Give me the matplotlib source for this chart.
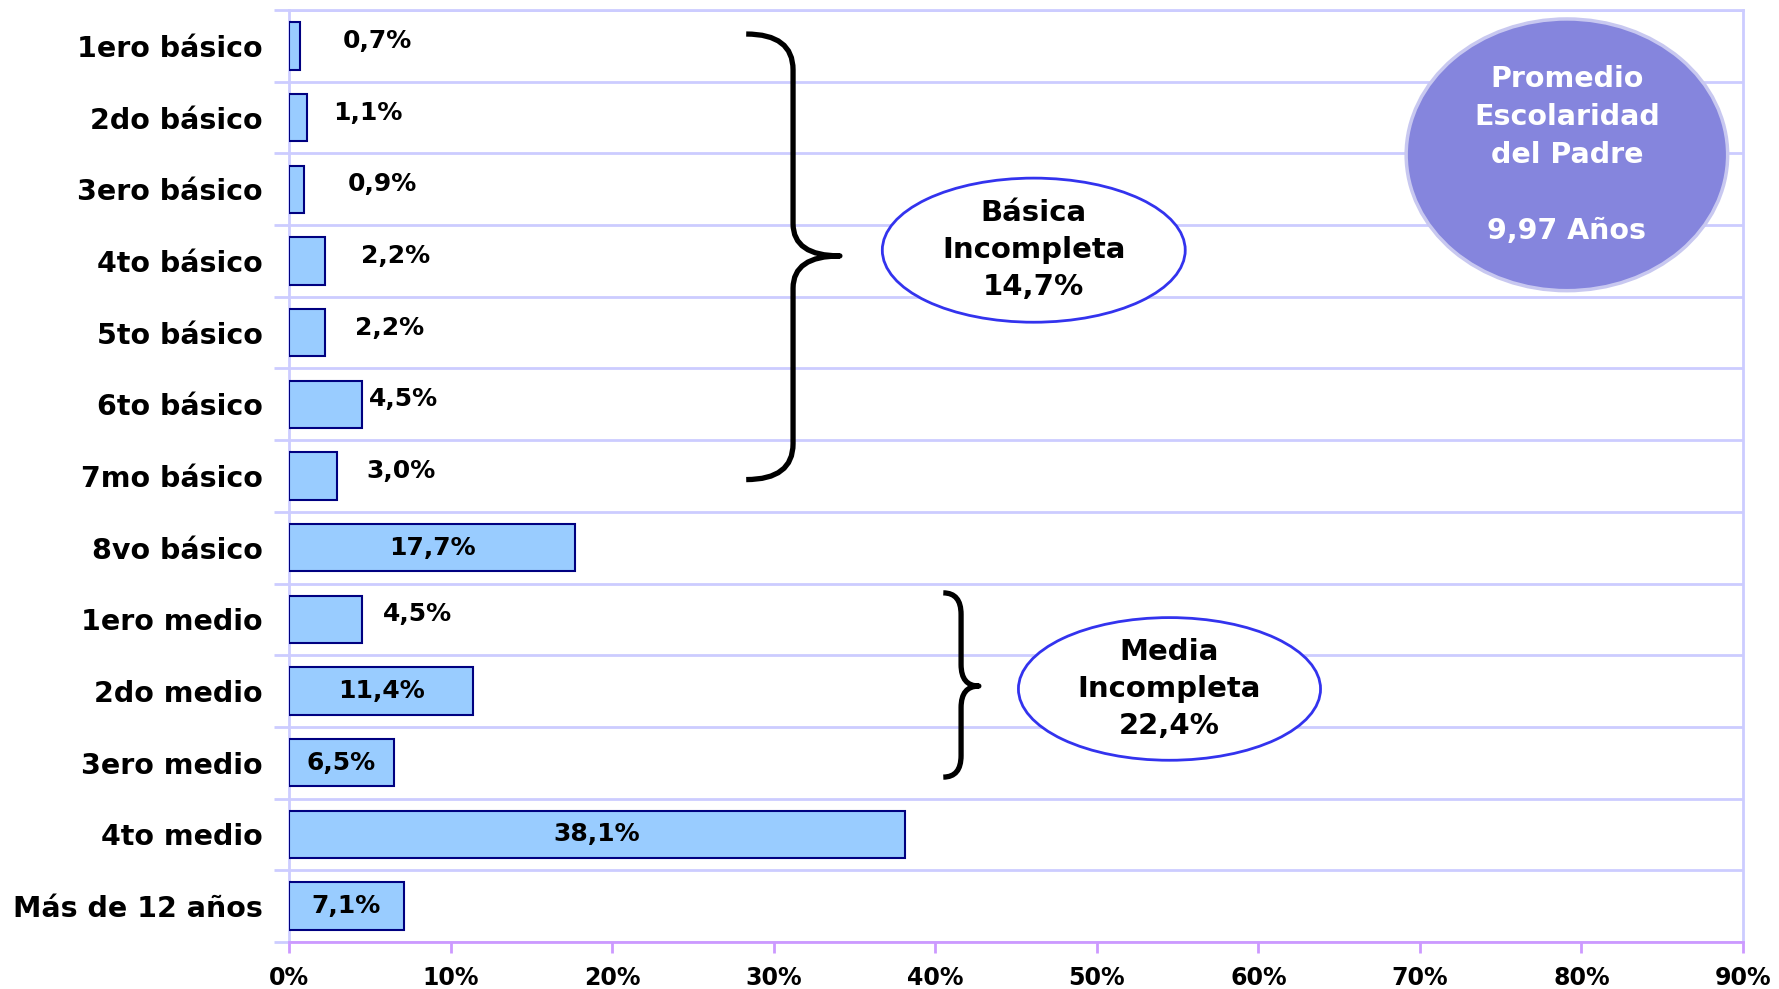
import matplotlib
matplotlib.use("Agg")
import matplotlib.pyplot as plt
from matplotlib.patches import Ellipse, PathPatch
from matplotlib.path import Path

# ---- data ----
categories = ["1ero básico", "2do básico", "3ero básico", "4to básico", "5to básico",
              "6to básico", "7mo básico", "8vo básico", "1ero medio", "2do medio",
              "3ero medio", "4to medio", "Más de 12 años"]
values = [0.7, 1.1, 0.9, 2.2, 2.2, 4.5, 3.0, 17.7, 4.5, 11.4, 6.5, 38.1, 7.1]
value_labels = ["0,7%", "1,1%", "0,9%", "2,2%", "2,2%", "4,5%", "3,0%", "17,7%",
                "4,5%", "11,4%", "6,5%", "38,1%", "7,1%"]
x_ticks = [0, 10, 20, 30, 40, 50, 60, 70, 80, 90]
x_tick_labels = ["0%", "10%", "20%", "30%", "40%", "50%", "60%", "70%", "80%", "90%"]
basica_text = "Básica\nIncompleta\n14,7%"
media_text = "Media\nIncompleta\n22,4%"
promedio_text = "Promedio\nEscolaridad\ndel Padre\n\n9,97 Años"

# label horizontal offsets beyond bar end (None = centered inside bar)
label_dx = [4.8, 3.75, 4.9, 4.4, 4.05, 2.6, 3.96, None, 3.44, None, None, None, None]

FONT = "DejaVu Sans"
GRID = "#CCCCFF"
AXIS = "#CC99FF"

fig = plt.figure(figsize=(17.79, 9.89), dpi=100)
ax = fig.add_axes([289 / 1779, 47 / 989, (1743 - 289) / 1779, (942 - 10) / 989])

n = len(categories)
ypos = list(range(n))
ax.barh(ypos, values, height=0.66, color="#99CCFF", edgecolor="#000080",
        linewidth=1.5, zorder=3)

ax.set_xlim(0, 90)
ax.set_ylim(n - 0.5, -0.5)

# gridlines at category boundaries
bounds = [i - 0.5 for i in range(n + 1)]
ax.set_yticks(bounds)
ax.set_yticklabels([""] * len(bounds))
ax.tick_params(axis="y", which="major", length=11, width=2, color=GRID, direction="out")
ax.set_yticks(ypos, minor=True)
ax.set_yticklabels(categories, minor=True, fontsize=20.5, fontweight="bold",
                   family=FONT)
ax.tick_params(axis="y", which="minor", length=0, pad=19)
ax.yaxis.grid(True, which="major", color=GRID, linewidth=2, zorder=0)
ax.set_axisbelow(True)

ax.set_xticks(x_ticks)
ax.set_xticklabels(x_tick_labels, fontsize=17, fontweight="bold", family=FONT)
ax.tick_params(axis="x", length=8, width=2, color=AXIS, pad=9)

for s in ["top", "right", "left"]:
    ax.spines[s].set_color(GRID)
    ax.spines[s].set_linewidth(2)
ax.spines["bottom"].set_color(AXIS)
ax.spines["bottom"].set_linewidth(2)

# value labels
for i, (v, lab, dx) in enumerate(zip(values, value_labels, label_dx)):
    if dx is None:
        ax.text(v / 2, i, lab, ha="center", va="center", fontsize=18,
                fontweight="bold", family=FONT, zorder=4)
    else:
        ax.text(v + dx, i - 0.07, lab, ha="center", va="center", fontsize=18,
                fontweight="bold", family=FONT, zorder=4)


def brace(x0, xs, xt, ytop, ybot, ytip, r, rt):
    verts = [(x0, ytop), (xs, ytop), (xs, ytop + r),
             (xs, ytip - rt), (xs, ytip), (xt, ytip),
             (xs, ytip), (xs, ytip + rt),
             (xs, ybot - r), (xs, ybot), (x0, ybot)]
    codes = [Path.MOVETO, Path.CURVE3, Path.CURVE3,
             Path.LINETO, Path.CURVE3, Path.CURVE3,
             Path.CURVE3, Path.CURVE3,
             Path.LINETO, Path.CURVE3, Path.CURVE3]
    p = PathPatch(Path(verts, codes), fill=False, edgecolor="black",
                  linewidth=3.8, capstyle="butt", joinstyle="round", zorder=5)
    ax.add_patch(p)


brace(28.3, 31.2, 34.1, -0.165, 6.05, 2.93, 0.5, 0.45)
brace(40.5, 41.6, 42.7, 7.63, 10.2, 8.93, 0.3, 0.3)

# ellipses
e1 = Ellipse((46.1, 2.85), 18.75, 2.01, facecolor="white", edgecolor="#3333EE",
             linewidth=2, zorder=5)
ax.add_patch(e1)
ax.text(46.1, 2.85, basica_text, ha="center", va="center", fontsize=21,
        fontweight="bold", family=FONT, linespacing=1.42, zorder=6)

e2 = Ellipse((54.5, 8.97), 18.7, 1.99, facecolor="white", edgecolor="#3333EE",
             linewidth=2, zorder=5)
ax.add_patch(e2)
ax.text(54.5, 8.97, media_text, ha="center", va="center", fontsize=21,
        fontweight="bold", family=FONT, linespacing=1.42, zorder=6)

e3 = Ellipse((79.1, 1.52), 19.9, 3.79, facecolor="#8585DD", edgecolor="#C8C8F0",
             linewidth=2.5, zorder=5)
ax.add_patch(e3)
ax.text(79.1, 1.52, promedio_text, ha="center", va="center", fontsize=20.5,
        fontweight="bold", family=FONT, color="white", linespacing=1.45, zorder=6)

fig.savefig("out.png", dpi=100)
